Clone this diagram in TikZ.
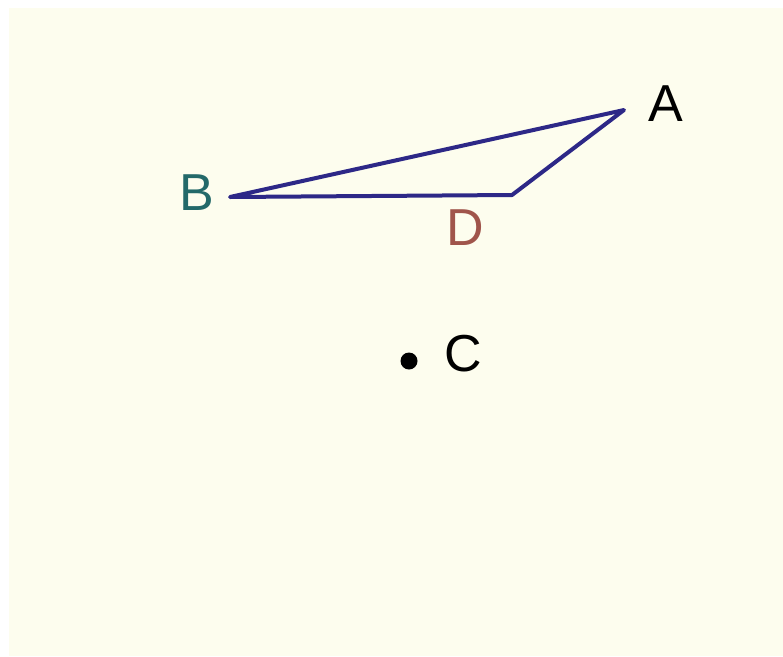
\documentclass[tikz,border=0pt]{standalone}
\usepackage{fontspec}
\setmainfont{Liberation Sans}
\usetikzlibrary{positioning}
\definecolor{paper}{RGB}{253,253,238}
\definecolor{sideblue}{RGB}{45,40,135}
\definecolor{tealB}{RGB}{35,105,105}
\definecolor{brownD}{RGB}{160,85,75}

\begin{document}
\begin{tikzpicture}[x=1pt,y=-1pt,line join=round]
      \tikzset{lbl/.style={font=\fontsize{52}{60}\selectfont,inner sep=0pt}}
      \useasboundingbox (0,0) rectangle (783,656);
      \fill[paper] (9,8) rectangle (783,656);
      \coordinate (A) at (624,110);
      \coordinate (B) at (230,197);
      \coordinate (D) at (512,195);
      \node[lbl] (a) at (666,104) {A};
      \node[lbl,text=tealB] (b) at (197,193) {B};
      \node[lbl,text=brownD] (d) at (465,228) {D};
      \node[circle,fill=black,inner sep=0pt,minimum size=17pt] (c) at (409,361) {};
      \node[lbl] (cl) at (463,354) {C};
      \draw[sideblue,line width=4pt] (B) -- (A) -- (D) -- cycle;
\end{tikzpicture}
\end{document}
